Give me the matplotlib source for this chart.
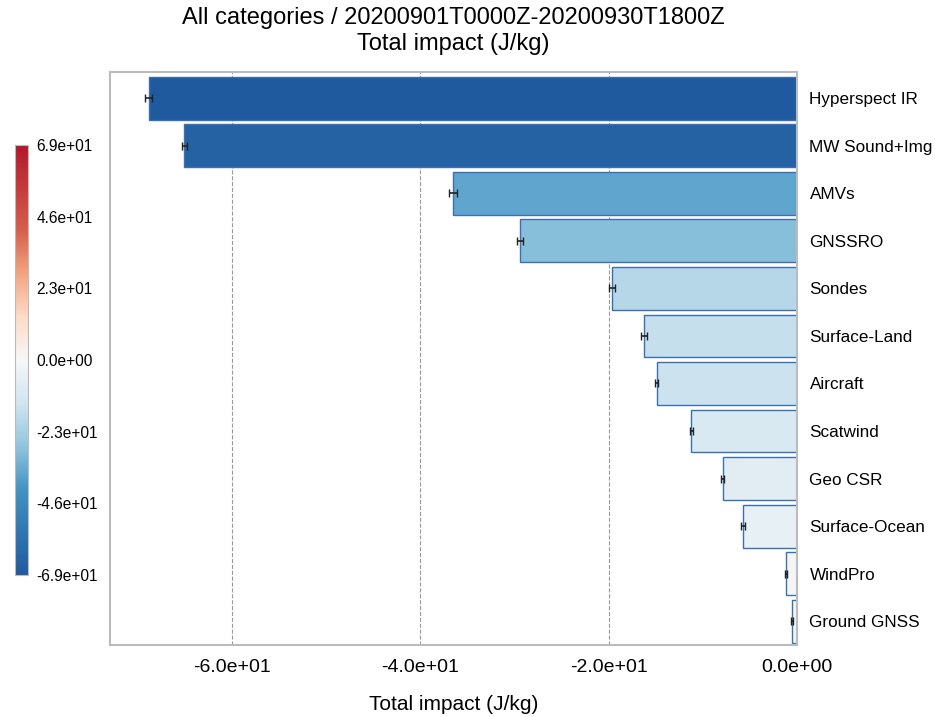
import numpy as np
import matplotlib
matplotlib.use("Agg")
import matplotlib.pyplot as plt
from matplotlib import cm, colors

plt.rcParams['font.family'] = ['Liberation Sans', 'DejaVu Sans']

# observation categories, top to bottom
categories = ['Hyperspect IR', 'MW Sound+Img', 'AMVs', 'GNSSRO', 'Sondes',
              'Surface-Land', 'Aircraft', 'Scatwind', 'Geo CSR',
              'Surface-Ocean', 'WindPro', 'Ground GNSS']
impact = [-68.8, -65.0, -36.5, -29.4, -19.6, -16.2, -14.9, -11.2, -7.9,
          -5.7, -1.2, -0.5]
err = [0.4, 0.3, 0.4, 0.3, 0.3, 0.3, 0.2, 0.2, 0.2, 0.2, 0.1, 0.1]
cbar_ticks = [-69, -46, -23, 0, 23, 46, 69]
xticks = [-60, -40, -20, 0]

# RdBu-like map, ends cut at the 9-class brewer colours
cmap = colors.LinearSegmentedColormap.from_list('rdbu9', [
    (0.0, '#1f5a9e'), (0.2, '#4393c3'), (0.3, '#92c5de'), (0.4, '#d1e5f0'),
    (0.5, '#f7f7f7'), (0.6, '#fddbc7'), (0.7, '#f4a582'), (0.8, '#d6604d'),
    (1.0, '#b2182b')])
vmax = 69.0
norm = colors.Normalize(vmin=-vmax, vmax=vmax)

fig = plt.figure(figsize=(9.35, 7.17), dpi=100)
ax = fig.add_axes([0.1176, 0.1004, 0.7348, 0.7992])

ypos = np.arange(len(categories))
ax.barh(ypos, impact, height=0.9, color=cmap(norm(np.array(impact))),
        edgecolor='#3a70b3', linewidth=1.0, zorder=2)
ax.errorbar(impact, ypos, xerr=err, fmt='none', ecolor='#222222',
            elinewidth=1.2, capsize=3, capthick=1, zorder=3)

ax.set_ylim(len(categories) - 0.5, -0.55)
ax.set_xlim(-72.9, 0)
ax.set_xticks(xticks)
ax.set_xticklabels(['%.1e' % v for v in xticks], fontsize=14)
ax.yaxis.tick_right()
ax.set_yticks(ypos)
ax.set_yticklabels(categories, fontsize=12.3)
ax.tick_params(axis='x', length=0, pad=10)
ax.tick_params(axis='y', length=0, pad=9)
ax.grid(axis='x', linestyle='--', color='#999999', linewidth=0.8, zorder=0)
ax.set_axisbelow(True)
for s in ax.spines.values():
    s.set_color('#bbbbbb')
    s.set_linewidth(1.5)

ax.set_xlabel('Total impact (J/kg)', fontsize=15, labelpad=14)
ax.set_title('All categories / 20200901T0000Z-20200930T1800Z\nTotal impact (J/kg)',
             fontsize=17, pad=16)

cax = fig.add_axes([0.016, 0.198, 0.014, 0.6])
cb = fig.colorbar(cm.ScalarMappable(norm=norm, cmap=cmap), cax=cax)
cb.set_ticks(cbar_ticks)
cb.set_ticklabels(['%.1e' % v for v in cbar_ticks])
cb.ax.tick_params(labelsize=11.2, length=0, pad=6)
cb.outline.set_edgecolor('#bbbbbb')

fig.savefig('out.png', dpi=100)
